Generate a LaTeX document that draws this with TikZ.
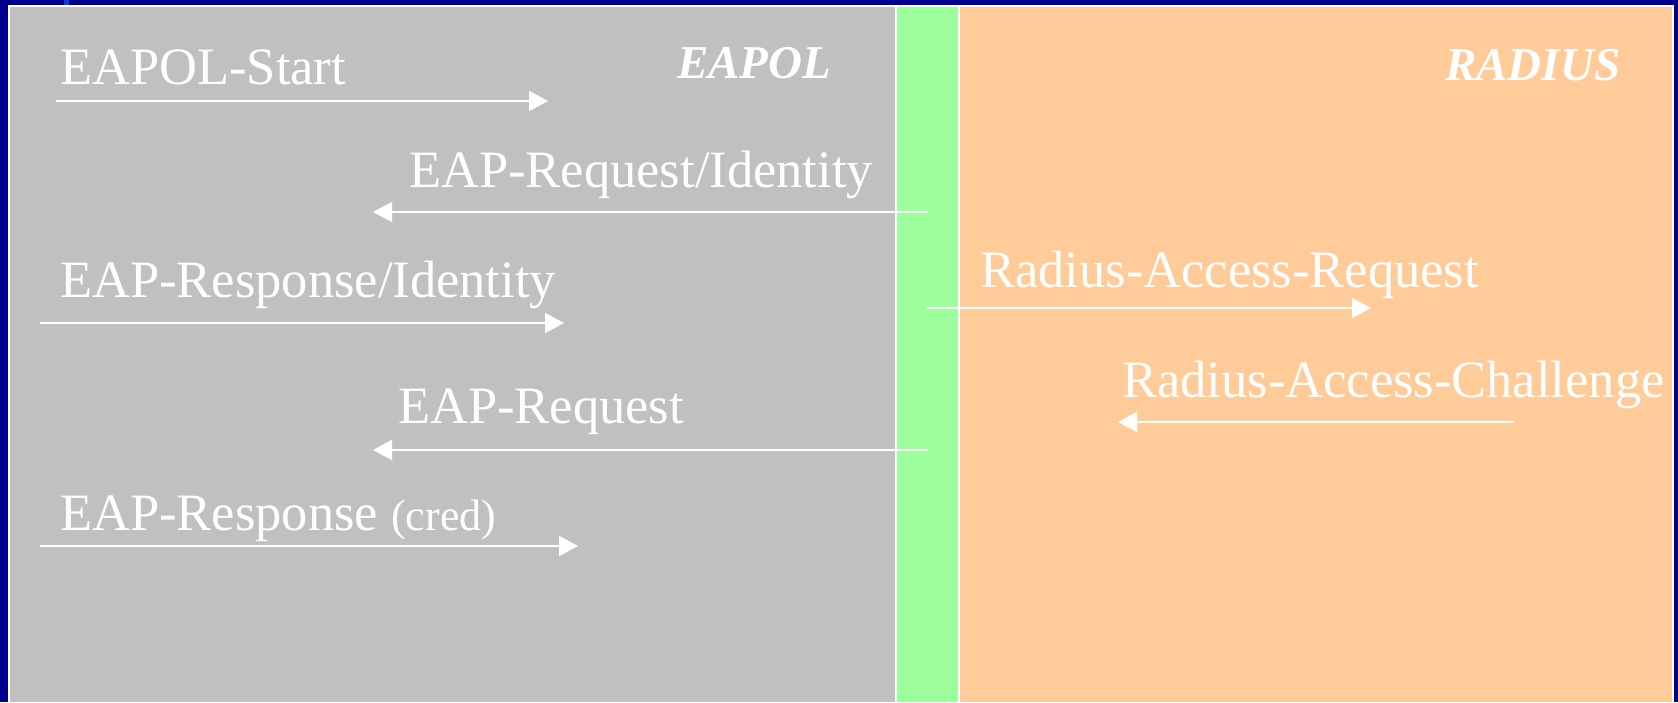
\documentclass[tikz,border=0pt]{standalone}
\usepackage{fontspec}
\setmainfont{Liberation Serif}
\usetikzlibrary{arrows.meta}

\definecolor{slideblue}{RGB}{0,0,140}
\definecolor{markblue}{RGB}{20,60,210}
\definecolor{eapolgray}{RGB}{192,192,192}
\definecolor{portgreen}{RGB}{156,255,156}
\definecolor{radiusorange}{RGB}{255,204,153}

\tikzset{
  msg/.style={text=white, inner sep=0pt, anchor=base west,
              font=\fontsize{52.5}{60}\selectfont},
  tag/.style={text=white, inner sep=0pt, anchor=base west,
              font=\fontsize{47}{56}\selectfont\bfseries\itshape},
  flow/.style={draw=white, line width=2pt,
               -{Triangle[width=20pt,length=19pt]}}
}

\begin{document}
\begin{tikzpicture}[x=1pt, y=-1pt]
    % slide background and the three panels
    \fill[slideblue] (0,0) rectangle (1678,702);
    \fill[markblue] (64,0) rectangle (69,6);
    \fill[white] (8,5) rectangle (1674,702);
    \fill[eapolgray] (10,7) rectangle (895,702);
    \fill[portgreen] (897,7) rectangle (958,702);
    \fill[radiusorange] (960,7) rectangle (1672,702);
    \useasboundingbox (0,0) rectangle (1678,702);

    % panel titles
    \node[tag] (eapol) at (677,78) {EAPOL};
    \node[tag] (radius) at (1445,80) {RADIUS};

    % message labels
    \node[msg] (start) at (60,84) {EAPOL-Start};
    \node[msg] (reqid) at (409,187) {EAP-Request/Identity};
    \node[msg] (respid) at (60,297) {EAP-Response/Identity};
    \node[msg] (accreq) at (980,287) {Radius-Access-Request};
    \node[msg] (accchal) at (1122,397) {Radius-Access-Challenge};
    \node[msg] (req) at (398,423) {EAP-Request};
    \node[msg] (resp) at (60,530) {EAP-Response {\fontsize{44}{50}\selectfont(cred)}};

    % arrow ends
    \coordinate (start-a) at (56,101);   \coordinate (start-b) at (548,101);
    \coordinate (reqid-a) at (928,212);  \coordinate (reqid-b) at (373,212);
    \coordinate (respid-a) at (40,323);  \coordinate (respid-b) at (564,323);
    \coordinate (accreq-a) at (927,308); \coordinate (accreq-b) at (1371,308);
    \coordinate (accchal-a) at (1514,422); \coordinate (accchal-b) at (1118,422);
    \coordinate (req-a) at (928,450);    \coordinate (req-b) at (373,450);
    \coordinate (resp-a) at (40,546);    \coordinate (resp-b) at (578,546);

    % message flows
    \draw[flow] (start-a) -- (start-b);
    \draw[flow] (reqid-a) -- (reqid-b);
    \draw[flow] (respid-a) -- (respid-b);
    \draw[flow] (accreq-a) -- (accreq-b);
    \draw[flow] (accchal-a) -- (accchal-b);
    \draw[flow] (req-a) -- (req-b);
    \draw[flow] (resp-a) -- (resp-b);
\end{tikzpicture}
\end{document}
